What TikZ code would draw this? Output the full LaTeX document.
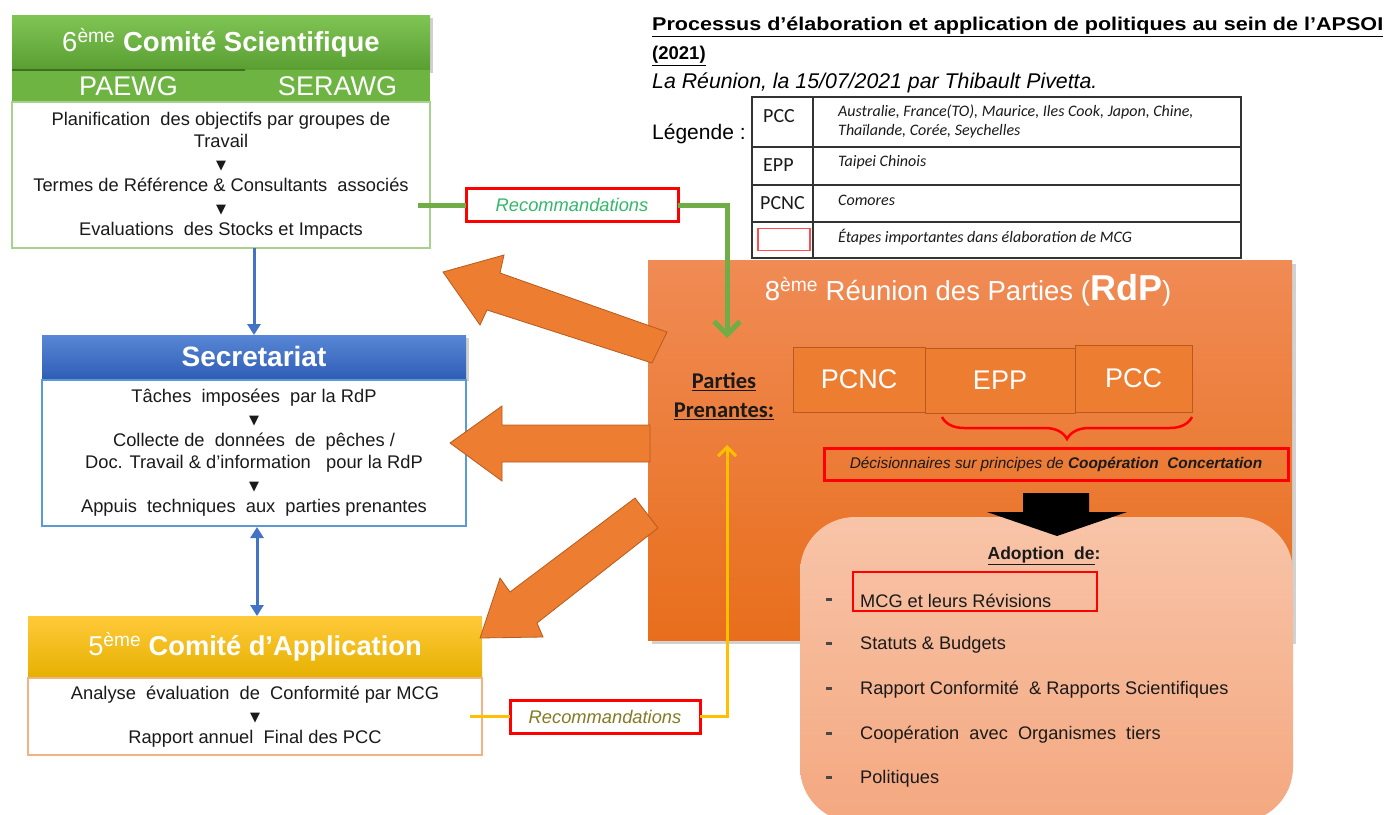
\documentclass[tikz,border=0pt]{standalone}
\usepackage{fontspec}
\usepackage{graphicx}
\setmainfont{Liberation Sans}
\newfontfamily\calibri{Carlito}
\newfontfamily\symfont{DejaVu Sans}
\usetikzlibrary{arrows.meta,decorations.pathreplacing,calc}
\definecolor{sciTop}{HTML}{7FC554}
\definecolor{sciBot}{HTML}{5A9E32}
\definecolor{sciSub}{HTML}{6DB443}
\definecolor{sciLine}{HTML}{A9D18E}
\definecolor{grnLine}{HTML}{70AD47}
\definecolor{grnTxt}{HTML}{33B86A}
\definecolor{secTop}{HTML}{5887D6}
\definecolor{secBot}{HTML}{2F5EB6}
\definecolor{secLine}{HTML}{5B9BD5}
\definecolor{bluArr}{HTML}{4472C4}
\definecolor{appTop}{HTML}{FFCA3A}
\definecolor{appBot}{HTML}{E6B000}
\definecolor{appLine}{HTML}{F4B183}
\definecolor{yelLine}{HTML}{FFC000}
\definecolor{oliveTxt}{HTML}{857A24}
\definecolor{rdpTop}{HTML}{F08B55}
\definecolor{rdpBot}{HTML}{E86E1C}
\definecolor{orgFill}{HTML}{ED7D31}
\definecolor{orgEdge}{HTML}{B95A1C}
\definecolor{adoTop}{HTML}{F8C4A8}
\definecolor{adoBot}{HTML}{F4A880}
\definecolor{redBox}{HTML}{FF0000}
\definecolor{txtDark}{HTML}{1A1A1A}
\newcommand{\dtri}{{\symfont\fontsize{13}{13}\selectfont ▼}}
\tikzset{
  box/.style={inner sep=0pt, outer sep=0pt},
  bodytxt/.style={font=\fontsize{18.3}{22}\selectfont, align=center, text=txtDark},
  redframe/.style={draw=redBox, line width=3pt, fill=white, box},
  innerbox/.style={box, fill=orgFill, draw=orgEdge, line width=0.8pt, text=white, font=\fontsize{27}{29}\selectfont},
  bigarrow/.style={fill=orgFill, draw=orgEdge, line width=0.8pt},
  legtxt/.style={font=\calibri\fontsize{20}{22}\selectfont, anchor=west, text=txtDark, inner sep=0pt},
  legit/.style={font=\calibri\itshape\fontsize{16}{19}\selectfont, anchor=west, text=txtDark, align=left, inner sep=0pt},
  item/.style={font=\fontsize{18.2}{20}\selectfont, anchor=west, text=txtDark, inner sep=0pt},
  shadowbox/.style={fill=black, opacity=0.18}
}
\begin{document}
\begin{tikzpicture}[x=1pt,y=-1pt]
\useasboundingbox (0,0) rectangle (1387,814);
\fill[white] (0,0) rectangle (1387,814);

% ---------- Comite scientifique ----------
\fill[shadowbox] (15,18) rectangle (433,73);
\node[box, minimum width=418pt, minimum height=55pt, top color=sciTop, bottom color=sciBot] (sciH) at (221,42.5)
  {\color{white}\fontsize{27.5}{29}\selectfont 6\textsuperscript{ème} \textbf{Comité Scientifique}};
\node[box, minimum width=233pt, minimum height=32pt, fill=sciSub] (paewg) at (128.5,86)
  {\color{white}\fontsize{27}{28}\selectfont PAEWG};
\node[box, minimum width=185pt, minimum height=32pt, fill=sciSub] (serawg) at (337.5,86)
  {\color{white}\fontsize{27}{28}\selectfont SERAWG};
\draw[line width=1.5pt, draw=sciBot!70!black] (paewg.north west) -- (paewg.north east);
\node[box, minimum width=418pt, minimum height=146pt, draw=sciLine, line width=1.5pt, fill=white] (sciB) at (221,175) {};
\node[bodytxt] at ($(sciB.center)+(0,1)$) {Planification\ \ des objectifs par groupes de\\Travail\\\dtri\\Termes de Référence \& Consultants\ \ associés\\\dtri\\Evaluations\ \ des Stocks et Impacts};

% ---------- Secretariat ----------
\fill[shadowbox] (45,338) rectangle (469,381);
\node[box, minimum width=424pt, minimum height=43pt, top color=secTop, bottom color=secBot] (secH) at (254,356.5)
  {\color{white}\fontsize{28}{30}\selectfont\bfseries Secretariat};
\node[box, minimum width=424pt, minimum height=146pt, draw=secLine, line width=1.2pt, fill=white] (secB) at (254,453) {};
\node[bodytxt] at (secB.center) {Tâches\ \ imposées\ \ par la RdP\\\dtri\\Collecte de\ \ données\ \ de\ \ pêches /\\Doc. Travail \& d'information\ \ \ pour la RdP\\\dtri\\Appuis\ \ techniques\ \ aux\ \ parties prenantes};

% ---------- Comite d'application ----------
\node[box, minimum width=454pt, minimum height=62pt, top color=appTop, bottom color=appBot] (appH) at (255,647)
  {\color{white}\fontsize{27.3}{29}\selectfont 5\textsuperscript{ème} \textbf{Comité d’Application}};
\node[box, minimum width=454pt, minimum height=77pt, draw=appLine, line width=1.5pt, fill=white] (appB) at (255,716.5) {};
\node[bodytxt] at (appB.center) {Analyse\ \ évaluation\ \ de\ \ Conformité par MCG\\\dtri\\Rapport annuel\ \ Final des PCC};

% blue connectors
\draw[bluArr, line width=3pt, -{Triangle[length=11pt,width=13pt]}] (secH.north |- sciB.south) -- (secH.north);
\draw[bluArr, line width=3pt, {Triangle[length=11pt,width=13pt]}-{Triangle[length=11pt,width=13pt]}] ($(secB.south)+(3,1)$) -- ($(secB.south |- appH.north)+(3,0)$);

% ---------- Title ----------
\node[anchor=west, inner sep=0pt] (title) at (652,27)
  {\resizebox{731pt}{\height}{\fontsize{18.5}{20}\selectfont\bfseries\underline{Processus d’élaboration et application de politiques au sein de l’APSOI}}};
\node[anchor=west, inner sep=0pt] (year) at (652,56)
  {\fontsize{18.5}{20}\selectfont\bfseries\underline{(2021)}};
\node[anchor=west, inner sep=0pt] (author) at (652,83)
  {\fontsize{21.3}{23}\selectfont\itshape La Réunion, la 15/07/2021 par Thibault Pivetta.};
\node[anchor=west, inner sep=0pt] (legende) at (652,134)
  {\fontsize{21}{23}\selectfont Légende :};

% ---------- Legend table ----------
\coordinate (tNW) at (752,97);
\coordinate (tSE) at (1241,258);
\draw[line width=1.4pt, draw=black!80] (tNW) rectangle (tSE);
\draw[line width=1.4pt, draw=black!80] (813,97) -- (813,258);
\draw[line width=1.4pt, draw=black!80] (752,147) -- (1241,147);
\draw[line width=1.4pt, draw=black!80] (752,185) -- (1241,185);
\draw[line width=1.4pt, draw=black!80] (752,222) -- (1241,222);
\node[legtxt] (lpcc) at (763,116) {PCC};
\node[legtxt] (lepp) at (763,165) {EPP};
\node[legtxt] (lpcnc) at (760,203) {PCNC};
\node[box, minimum width=52pt, minimum height=22pt, draw=redBox!70, line width=1.3pt] (lred) at (784,239.5) {};
\node[legit] (dpcc) at (838,121) {Australie, France(TO), Maurice, Iles Cook, Japon, Chine,\\Thaïlande, Corée, Seychelles};
\node[legit] (depp) at (838,162) {Taipei Chinois};
\node[legit] (dpcnc) at (838,200) {Comores};
\node[legit] (dred) at (838,237) {Étapes importantes dans élaboration de MCG};

% ---------- RdP ----------
\fill[shadowbox] (652,264) rectangle (1296,644);
\node[box, minimum width=644pt, minimum height=380pt, top color=rdpTop, bottom color=rdpBot] (rdp) at (970,450) {};
\node[text=white, inner sep=0pt] (rdpT) at (968,290)
  {\fontsize{27.5}{30}\selectfont 8\textsuperscript{ème} Réunion des Parties ({\fontsize{36}{36}\selectfont\bfseries RdP})};

\node[innerbox, minimum width=132pt, minimum height=65pt] (pcnc) at (859,379.5) {PCNC};
\node[innerbox, minimum width=150pt, minimum height=65pt] (epp) at (1000,380.5) {EPP};
\node[innerbox, minimum width=117pt, minimum height=67pt] (pcc) at (1133.5,378.5) {PCC};

\draw[redBox, line width=2.5pt, decorate, decoration={brace, amplitude=22pt}] (pcc.south east |- 0,417) -- (942,417);
\node[redframe, minimum width=464pt, minimum height=32pt, fill=none] (decis) at (1056,464)
  {\fontsize{15.4}{17}\selectfont\itshape\color{txtDark}Décisionnaires sur principes de {\bfseries Coopération\ \ Concertation}};

\node[font=\calibri\bfseries\fontsize{22.5}{29}\selectfont, align=center, text=txtDark, inner sep=0pt] (pp) at (724,396)
  {\underline{Parties}\\\underline{Prenantes:}};

% ---------- Adoption ----------
\node[box, minimum width=493pt, minimum height=305pt, rounded corners=55pt, top color=adoTop, bottom color=adoBot] (ado) at (1046.5,669.5) {};
\fill[black] (1023,493) -- (1089,493) -- (1089,512) -- (1127,512) -- (1057,536) -- (987,512) -- (1023,512) -- cycle;
\node[font=\fontsize{17.5}{20}\selectfont\bfseries, text=txtDark, inner sep=0pt] (adoT) at (1044,556) {\underline{Adoption\ \ de}:};
\foreach \yy/\tt [count=\i] in {601/MCG et leurs Révisions, 645/Statuts \& Budgets, 690/Rapport Conformité\ \ \& Rapports Scientifiques, 735/Coopération\ \ avec\ \ Organismes\ \ tiers, 779/Politiques}{
  \node[item] (it\i) at (860,\yy) {\tt};
  \fill[txtDark!80] (826,\yy-3.5) rectangle (832,\yy-0.5);
}
\node[box, minimum width=244pt, minimum height=39pt, draw=redBox, line width=2.6pt] (mcgbox) at (975,591.5) {};

% ---------- big orange arrows ----------
\draw[bigarrow] (667,332) -- (500,273) -- (504,255) -- (443,272) -- (480,325) -- (487,310) -- (652,363) -- cycle;
\draw[bigarrow] (650,425) -- (502,425) -- (502,406) -- (450,443) -- (502,481) -- (502,462) -- (650,462) -- cycle;
\draw[bigarrow] (635,498) -- (510,592) -- (500,578) -- (480,638) -- (543,637) -- (537,623) -- (658,528) -- cycle;

% ---------- Recommandations (green) ----------
\node[redframe, minimum width=212pt, minimum height=33pt] (recg) at (572,205)
  {\fontsize{18.3}{20}\selectfont\itshape\color{grnTxt}Recommandations};
\coordinate (gstart) at (418,205);
\coordinate (gend) at (727,338);
\draw[grnLine, line width=5pt] (gstart) -- (recg.west);
\draw[grnLine, line width=5pt, -{Straight Barb[length=13pt,width=26pt]}] (recg.east) -| (gend);

% ---------- Recommandations (yellow) ----------
\coordinate (ystart) at ($(appB.east)+(-12,0)$);
\coordinate (yend) at (727,445);
\node[redframe, minimum width=190pt, minimum height=33pt] (recy) at (605,716.5)
  {\fontsize{18.3}{20}\selectfont\itshape\color{oliveTxt}Recommandations};
\draw[yelLine, line width=3pt] (ystart) -- (recy.west);
\draw[yelLine, line width=3pt, -{Straight Barb[length=9pt,width=18pt]}] (recy.east) -| (yend);
\end{tikzpicture}
\end{document}
